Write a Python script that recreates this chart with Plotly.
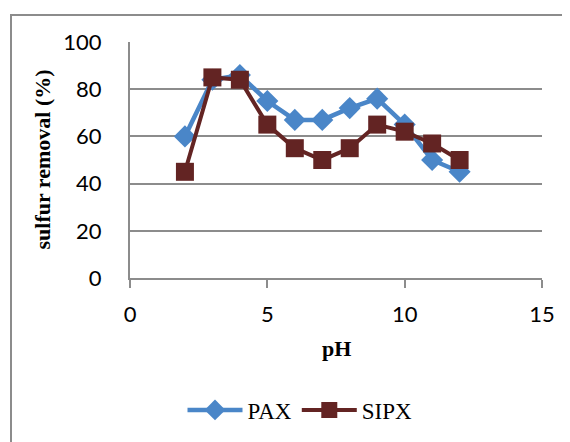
import plotly.graph_objects as go

ph = [2, 3, 4, 5, 6, 7, 8, 9, 10, 11, 12]
pax = [60, 84, 86, 75, 67, 67, 72, 76, 65, 50, 45]
sipx = [45, 85, 84, 65, 55, 50, 55, 65, 62, 57, 50]

x_ticks = [0, 5, 10, 15]
y_ticks = [0, 20, 40, 60, 80, 100]

GRID = "#8c8c8c"
OFF = 8  # default body margin of the html page
W, H = 570 - OFF, 442 - OFF
ML, MT = 130 - OFF, 42 - OFF
PW, PH = 412, 237
MR = W - ML - PW
MB = H - MT - PH

def px2x(p):
    return (p - OFF - ML) / PW

def px2y(p):
    return (MT + PH - (p - OFF)) / PH

fig = go.Figure()
fig.add_trace(go.Scatter(
    x=ph, y=pax, name="PAX", mode="lines+markers",
    line=dict(color="#4a86c8", width=4.5),
    marker=dict(symbol="diamond", size=17, color="#4a86c8"),
))
fig.add_trace(go.Scatter(
    x=ph, y=sipx, name="SIPX", mode="lines+markers",
    line=dict(color="#632423", width=4),
    marker=dict(symbol="square", size=18, color="#632423"),
))

fig.update_layout(
    width=W, height=H,
    margin=dict(l=ML, r=MR, t=MT, b=MB),
    paper_bgcolor="white", plot_bgcolor="white",
    showlegend=True,
    legend=dict(orientation="h", x=px2x(300), y=px2y(410),
                xanchor="center", yanchor="middle",
                font=dict(family="Liberation Serif", size=23, color="black"),
                itemwidth=55, tracegroupgap=0),
    xaxis=dict(range=[0, 15], tickvals=x_ticks, showgrid=False, zeroline=False,
               showline=True, linecolor=GRID, linewidth=2,
               ticks="outside", ticklen=8, tickwidth=2, tickcolor=GRID,
               ticklabelstandoff=8,
               tickfont=dict(family="Lato", size=22, color="black")),
    yaxis=dict(range=[0, 100], tickvals=y_ticks, showgrid=True, gridcolor=GRID,
               gridwidth=2, zeroline=False, showline=True, linecolor=GRID,
               linewidth=2, ticks="", ticklabelstandoff=22,
               tickfont=dict(family="Lato", size=22, color="black")),
    annotations=[
        dict(text="<b>sulfur removal (%)</b>", textangle=-90, showarrow=False,
             xref="paper", yref="paper", x=px2x(43), y=px2y(160),
             xanchor="center", yanchor="middle",
             font=dict(family="Liberation Serif", size=22, color="black")),
        dict(text="<b>pH</b>", showarrow=False,
             xref="paper", yref="paper", x=px2x(336), y=px2y(350),
             xanchor="center", yanchor="middle",
             font=dict(family="Liberation Serif", size=22, color="black")),
    ],
    shapes=[
        dict(type="rect", xref="paper", yref="paper",
             x0=px2x(11), x1=px2x(590), y0=px2y(15), y1=px2y(470),
             line=dict(color=GRID, width=2), layer="below"),
    ],
)

fig.write_html("out.html")
